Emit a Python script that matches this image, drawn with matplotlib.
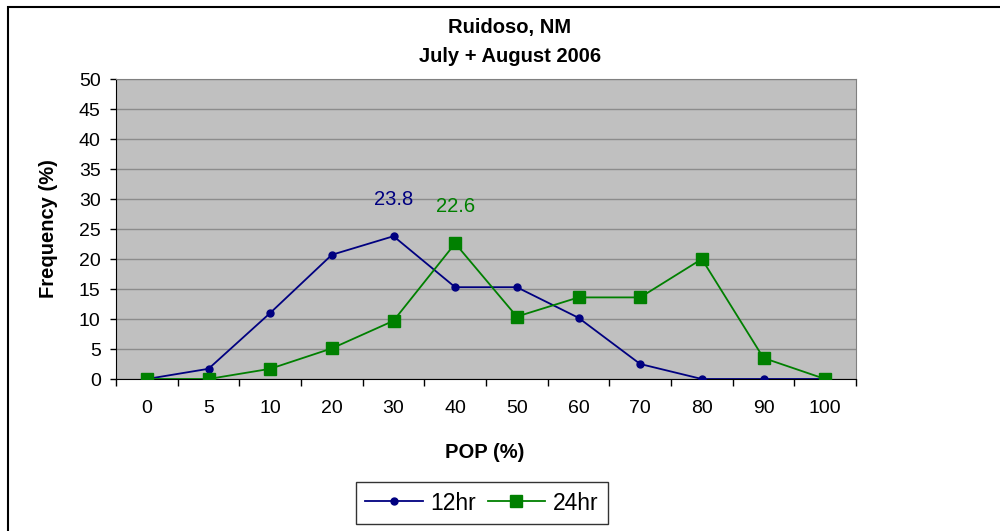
import matplotlib
matplotlib.use("Agg")
import matplotlib.pyplot as plt
from matplotlib.patches import Rectangle
import numpy as np

plt.rcParams["font.family"] = ["Liberation Sans", "DejaVu Sans"]

# data
categories = ["0", "5", "10", "20", "30", "40", "50", "60", "70", "80", "90", "100"]
freq_12hr = [0, 1.7, 11.0, 20.7, 23.8, 15.3, 15.3, 10.2, 2.5, 0, 0, 0]
freq_24hr = [0, 0, 1.7, 5.1, 9.7, 22.6, 10.4, 13.6, 13.6, 20.0, 3.5, 0]
peak_labels = [(4, freq_12hr[4], "23.8"), (5, freq_24hr[5], "22.6")]

BLUE = "#000080"
GREEN = "#008000"

fig = plt.figure(figsize=(10, 5.31), dpi=100)
ax = fig.add_axes([0.116, 1 - 379 / 531, 0.740, 300 / 531])
ax.set_facecolor("#c0c0c0")

x = np.arange(len(categories))
ax.plot(x, freq_12hr, "-o", color=BLUE, lw=1.3, ms=5, label="12hr", zorder=3)
ax.plot(x, freq_24hr, "-s", color=GREEN, lw=1.3, ms=8, label="24hr", zorder=4)

for i, v, txt in peak_labels:
    col = BLUE if txt == "23.8" else GREEN
    ax.annotate(txt, (i, v), xytext=(0, 26.5), textcoords="offset points",
                ha="center", va="center", color=col, fontsize=14.5)

ax.set_xlim(-0.5, len(categories) - 0.5)
ax.set_ylim(0, 50)
ax.set_yticks(np.arange(0, 51, 5))
ax.yaxis.grid(True, color="#8c8c8c", lw=1)
ax.set_axisbelow(True)

# ticks between categories, labels centred on them (Excel style)
ax.set_xticks(np.arange(-0.5, len(categories)), minor=False)
ax.set_xticklabels([])
ax.set_xticks(x, minor=True)
ax.set_xticklabels(categories, minor=True)
ax.tick_params(axis="x", which="major", direction="out", length=5, width=1, color="black")
ax.tick_params(axis="x", which="minor", length=0, pad=15, labelsize=14)
ax.tick_params(axis="y", direction="out", length=4, width=1, pad=7, labelsize=14)

for s in ["top", "right"]:
    ax.spines[s].set_color("#808080")
for s in ["left", "bottom"]:
    ax.spines[s].set_color("black")

fig.text(0.51, 1 - 27 / 531, "Ruidoso, NM", ha="center", va="center",
         fontsize=14.5, fontweight="bold")
fig.text(0.51, 1 - 57 / 531, "July + August 2006", ha="center", va="center",
         fontsize=14.5, fontweight="bold")
fig.text(0.485, 1 - 453 / 531, "POP (%)", ha="center", va="center",
         fontsize=14.5, fontweight="bold")
fig.text(0.048, 1 - 229 / 531, "Frequency (%)", ha="center", va="center",
         rotation=90, fontsize=14.5, fontweight="bold")

leg = fig.legend(loc="center", bbox_to_anchor=(0.482, 1 - 503 / 531), ncol=2,
                 fontsize=16.5, frameon=True, fancybox=False, handlelength=2.5,
                 columnspacing=0.5, handletextpad=0.35, borderpad=0.4,
                 borderaxespad=0.0)
leg.get_frame().set_edgecolor("black")
leg.get_frame().set_linewidth(1)

# outer chart border (only left and top edges fall inside the image)
fig.patches.append(Rectangle((0.008, -0.2), 1.5, 1.2 - 7 / 531, transform=fig.transFigure,
                             fill=False, edgecolor="black", lw=1.5))

fig.savefig("out.png", dpi=100)
